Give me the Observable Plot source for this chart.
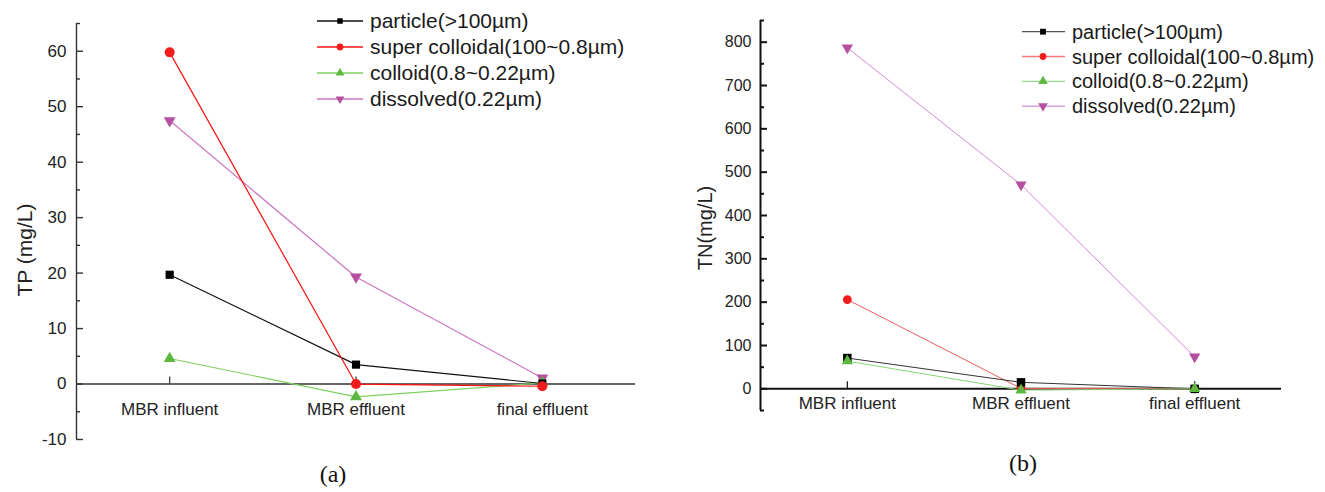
<!DOCTYPE html>
<html>
<head>
<meta charset="utf-8">
<script src="https://cdn.jsdelivr.net/npm/d3@7"></script>
<script src="https://cdn.jsdelivr.net/npm/@observablehq/plot@0.6"></script>
<style>
  body { margin: 0; background: #fff; font-family: "Liberation Sans", Arial, sans-serif; }
  #wrap { position: relative; width: 1325px; height: 492px; overflow: hidden; background: #fff; }
  .panel { position: absolute; top: 0; }
  .ylab { position: absolute; white-space: nowrap; color: #222; transform: translate(-50%, -50%) rotate(-90deg); line-height: 1; }
  .cap { position: absolute; white-space: nowrap; color: #111; font-family: "Liberation Serif", "Times New Roman", serif; font-size: 24px; transform: translate(-50%, -50%); line-height: 1; }
  #overlay { position: absolute; left: 0; top: 0; pointer-events: none; }
</style>
</head>
<body>
<div id="wrap"></div>
<script>
// ---------- data ----------
const categories = ["MBR influent", "MBR effluent", "final effluent"];
const seriesNames = ["particle(>100µm)", "super colloidal(100~0.8µm)", "colloid(0.8~0.22µm)", "dissolved(0.22µm)"];

// (a) TP (mg/L)
const tpParticle        = [19.7, 3.5, 0.1];
const tpSuperColloidal  = [59.8, 0.0, -0.4];
const tpColloid         = [4.6, -2.3, 0.2];
const tpDissolved       = [47.5, 19.3, 1.1];
const tpMajorTicks = [-10, 0, 10, 20, 30, 40, 50, 60];
const tpMinorTicks = [-5, 5, 15, 25, 35, 45, 55, 65];

// (b) TN (mg/L)
const tnParticle        = [71, 15, 0];
const tnSuperColloidal  = [206, 1, 0];
const tnColloid         = [64, -3, 0];
const tnDissolved       = [787, 471, 74];
const tnMajorTicks = [0, 100, 200, 300, 400, 500, 600, 700, 800];
const tnMinorTicks = [-50, 50, 150, 250, 350, 450, 550, 650, 750, 850];

// ---------- styles ----------
const triangleDown = {
  draw(context, size) {
    const y = -Math.sqrt(size / (Math.sqrt(3) * 3));
    context.moveTo(0, -y * 2);
    context.lineTo(-Math.sqrt(3) * y, y);
    context.lineTo(Math.sqrt(3) * y, y);
    context.closePath();
  }
};
const symbols = ["square", "circle", "triangle", triangleDown];
const d3Symbols = [d3.symbolSquare, d3.symbolCircle, d3.symbolTriangle, triangleDown];
const markColors = ["#000000", "#f21c1c", "#5cb83e", "#b4509f"];

function panel(o) {
  const rows = [];
  o.values.forEach((vals, s) => vals.forEach((v, i) => rows.push({s, i, v})));
  const innerW = o.width - o.ml - o.mr;
  const marks = [
    Plot.ruleY([0], {stroke: o.axisColor, strokeWidth: o.zeroW}),
    Plot.ruleX([-0.5], {y1: o.yDomain[0], y2: o.yDomain[1], stroke: o.axisColor, strokeWidth: o.axisW}),
    Plot.ruleY(o.major, {stroke: o.axisColor, strokeWidth: o.axisW, insetRight: innerW - 7}),
    Plot.ruleY(o.minor, {stroke: o.axisColor, strokeWidth: o.axisW, insetRight: innerW - 4}),
    Plot.ruleX(categories.map((_, i) => i), {x: d => d, y1: 0, y2: 0, insetTop: -7, stroke: o.axisColor, strokeWidth: 1.2}),
    Plot.axisY({ticks: o.major, tickSize: 0, tickPadding: o.pad, fontSize: o.tickFont, label: null, tickFormat: d => String(d)}),
    Plot.text(categories, {x: (d, i) => i, y: 0, dy: o.catDy, text: d => d, fontSize: 17})
  ];
  o.drawOrder.forEach(s => {
    marks.push(Plot.line(rows.filter(r => r.s === s), {x: "i", y: "v", stroke: o.lineColors[s], strokeWidth: o.lineW}));
  });
  o.drawOrder.forEach(s => {
    marks.push(Plot.dot(rows.filter(r => r.s === s), {x: "i", y: "v", symbol: symbols[s], fill: markColors[s], stroke: "none", r: o.radii[s]}));
  });
  return Plot.plot({
    width: o.width, height: o.height,
    marginLeft: o.ml, marginRight: o.mr, marginTop: o.mt, marginBottom: o.mb,
    x: {type: "linear", domain: [-0.5, categories.length - 0.5], axis: null},
    y: {type: "linear", domain: o.yDomain},
    style: {background: "transparent", color: "#222", fontFamily: "'Liberation Sans', Arial, sans-serif", overflow: "visible"},
    marks
  });
}

const wrap = document.getElementById("wrap");

const a = panel({
  width: 660, height: 492, ml: 76, mr: 25, mt: 23, mb: 53,
  yDomain: [-10, 65], major: tpMajorTicks, minor: tpMinorTicks,
  values: [tpParticle, tpSuperColloidal, tpColloid, tpDissolved],
  lineColors: ["#111111", "#ff1010", "#7fd060", "#cc74c2"],
  radii: [4.6, 5, 4.4, 4.4], lineW: 1.2,
  axisColor: "#333", axisW: 1.4, zeroW: 1.4, pad: 10, tickFont: 17, catDy: 26,
  drawOrder: [3, 2, 0, 1]
});
a.classList.add("panel"); a.style.left = "0px";
wrap.appendChild(a);

const b = panel({
  width: 665, height: 492, ml: 100, mr: 44, mt: 20, mb: 82,
  yDomain: [-50, 850], major: tnMajorTicks, minor: tnMinorTicks,
  values: [tnParticle, tnSuperColloidal, tnColloid, tnDissolved],
  lineColors: ["#333333", "#f05a5a", "#88d478", "#d48ad0"],
  radii: [4.8, 4.4, 4.2, 4.2], lineW: 1,
  axisColor: "#111", axisW: 2, zeroW: 2, pad: 9, tickFont: 16, catDy: 15,
  drawOrder: [3, 1, 0, 2]
});
b.classList.add("panel"); b.style.left = "660px";
wrap.appendChild(b);

// axis titles and captions
function addDiv(cls, text, x, y, size) {
  const d = document.createElement("div");
  d.className = cls; d.textContent = text;
  d.style.left = x + "px"; d.style.top = y + "px";
  if (size) d.style.fontSize = size + "px";
  wrap.appendChild(d);
}
addDiv("ylab", "TP (mg/L)", 24, 250, 21);
addDiv("ylab", "TN(mg/L)", 705, 228, 20);
addDiv("cap", "(a)", 333, 474);
addDiv("cap", "(b)", 1023, 463);

// legends
const svg = d3.select(wrap).append("svg").attr("id", "overlay").attr("width", 1325).attr("height", 492);
function legend(cfg) {
  seriesNames.forEach((name, s) => {
    const y = cfg.y0 + s * cfg.dy;
    svg.append("line").attr("x1", cfg.x1).attr("x2", cfg.x2).attr("y1", y).attr("y2", y)
      .attr("stroke", cfg.lineColors[s]).attr("stroke-width", 1.3);
    svg.append("path").attr("transform", `translate(${cfg.xm},${y})`)
      .attr("d", d3.symbol(d3Symbols[s], cfg.sizes[s])())
      .attr("fill", markColors[s]);
    svg.append("text").attr("x", cfg.xt).attr("y", y).attr("dy", "0.35em")
      .attr("font-size", cfg.font).attr("fill", "#1a1a1a")
      .attr("font-family", "'Liberation Sans', Arial, sans-serif").text(name);
  });
}
legend({x1: 317, x2: 363, xm: 340, xt: 370, y0: 21, dy: 26, font: 21,
  lineColors: ["#111", "#ff1010", "#7fd060", "#cc74c2"], sizes: [30, 36, 34, 34]});
legend({x1: 1022, x2: 1065, xm: 1043, xt: 1072, y0: 31.7, dy: 24.8, font: 20,
  lineColors: ["#555", "#f07a7a", "#96d888", "#d490cf"], sizes: [34, 36, 40, 40]});
</script>
</body>
</html>
